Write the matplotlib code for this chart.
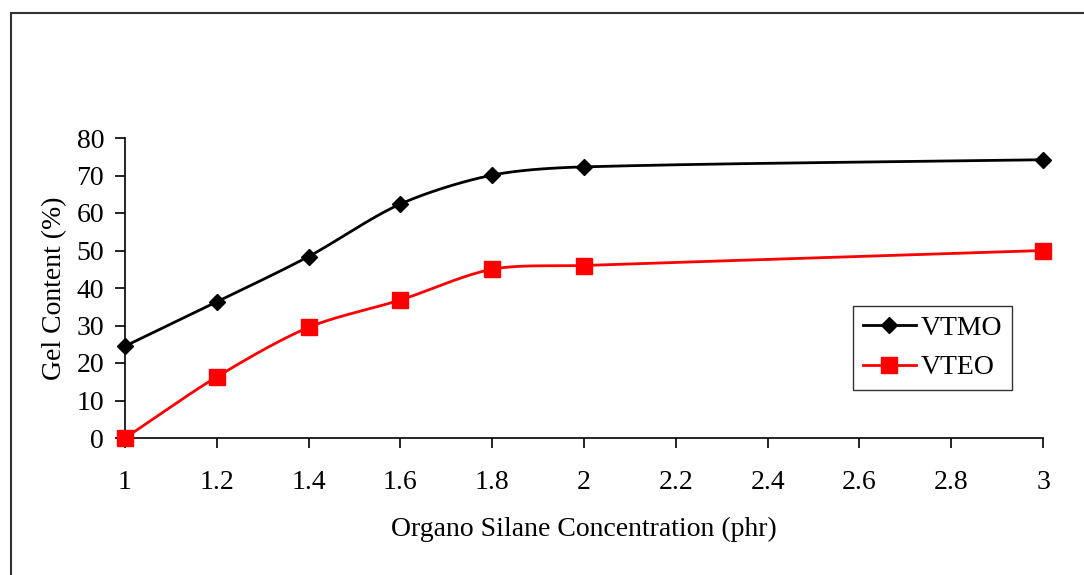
import numpy as np
import matplotlib
matplotlib.use("Agg")
import matplotlib.pyplot as plt
from matplotlib.patches import Rectangle

plt.rcParams['font.family'] = ['Liberation Serif', 'DejaVu Serif']

conc = [1, 1.2, 1.4, 1.6, 1.8, 2, 3]
vtmo = [24.5, 36.3, 48.4, 62.4, 70.1, 72.3, 74.2]
vteo = [0, 16.3, 29.5, 36.8, 45.0, 46.0, 50.0]
xticks = [1, 1.2, 1.4, 1.6, 1.8, 2, 2.2, 2.4, 2.6, 2.8, 3]
xticklabels = ['1', '1.2', '1.4', '1.6', '1.8', '2', '2.2', '2.4', '2.6', '2.8', '3']
yticks = [0, 10, 20, 30, 40, 50, 60, 70, 80]

XMIN, XMAX, YMIN, YMAX = 1, 3, 0, 80
W, H = 918.0, 300.0  # axes size in px, used to smooth in screen space


def smooth(x, y, n=60, s=0.3):
    # Excel-like smoothing: cubic bezier, tangent direction from neighbours,
    # control distance scaled to each segment's own length
    px = (np.asarray(x, float) - XMIN) / (XMAX - XMIN) * W
    py = (np.asarray(y, float) - YMIN) / (YMAX - YMIN) * H
    P = np.column_stack([px, py])
    T = []
    for i in range(len(P)):
        a = P[i - 1] if i > 0 else P[i]
        b = P[i + 1] if i + 1 < len(P) else P[i]
        d = b - a
        T.append(d / np.hypot(*d))
    out = []
    for i in range(len(P) - 1):
        p1, p2 = P[i], P[i + 1]
        L = np.hypot(*(p2 - p1))
        c1 = p1 + T[i] * L * s
        c2 = p2 - T[i + 1] * L * s
        t = np.linspace(0, 1, n)[:, None]
        seg = ((1 - t) ** 3) * p1 + 3 * ((1 - t) ** 2) * t * c1 + 3 * (1 - t) * t ** 2 * c2 + t ** 3 * p2
        out.append(seg if i == 0 else seg[1:])
    S = np.vstack(out)
    return S[:, 0] / W * (XMAX - XMIN) + XMIN, S[:, 1] / H * (YMAX - YMIN) + YMIN


fig = plt.figure(figsize=(10.84, 5.75), dpi=100)
fig.patches.append(Rectangle((11 / 1084, -0.1), 1.2, 1.1 - 13 / 575, transform=fig.transFigure,
                             fill=False, edgecolor='#333333', linewidth=1.5))
ax = fig.add_axes([125 / 1084, 1 - 438 / 575, 918 / 1084, 300 / 575])

sx, sy = smooth(conc, vtmo)
ax.plot(sx, sy, color='black', lw=2, clip_on=False)
ax.plot(conc, vtmo, ls='none', marker='D', ms=8.5, color='black', clip_on=False, zorder=3)
sx, sy = smooth(conc, vteo)
ax.plot(sx, sy, color='red', lw=2, clip_on=False)
ax.plot(conc, vteo, ls='none', marker='s', ms=11.5, color='red', clip_on=False, zorder=3)

# legend proxies
ax.plot([], [], color='black', lw=2, marker='D', ms=8.5, label='VTMO')
ax.plot([], [], color='red', lw=2, marker='s', ms=11.5, label='VTEO')
ax.legend(loc='upper left', bbox_to_anchor=((853 - 125) / 918, (438 - 306) / 300), fontsize=20,
          frameon=True, fancybox=False, edgecolor='#333333', framealpha=1, handlelength=1.9,
          borderpad=0.35, labelspacing=0.5, handletextpad=0.2, borderaxespad=0)

ax.set_xlim(XMIN, XMAX)
ax.set_ylim(YMIN, YMAX)
ax.set_xticks(xticks)
ax.set_xticklabels(xticklabels)
ax.set_yticks(yticks)
for s in ['top', 'right']:
    ax.spines[s].set_visible(False)
for s in ['left', 'bottom']:
    ax.spines[s].set_linewidth(1.2)
ax.tick_params(direction='out', length=7, width=1.2, labelsize=20, pad=8)
ax.tick_params(axis='x', pad=16)
ax.set_xlabel('Organo Silane Concentration (phr)', fontsize=20, labelpad=16)
ax.set_ylabel('Gel Content (%)', fontsize=20, labelpad=7)

fig.savefig('out.png', dpi=100)
